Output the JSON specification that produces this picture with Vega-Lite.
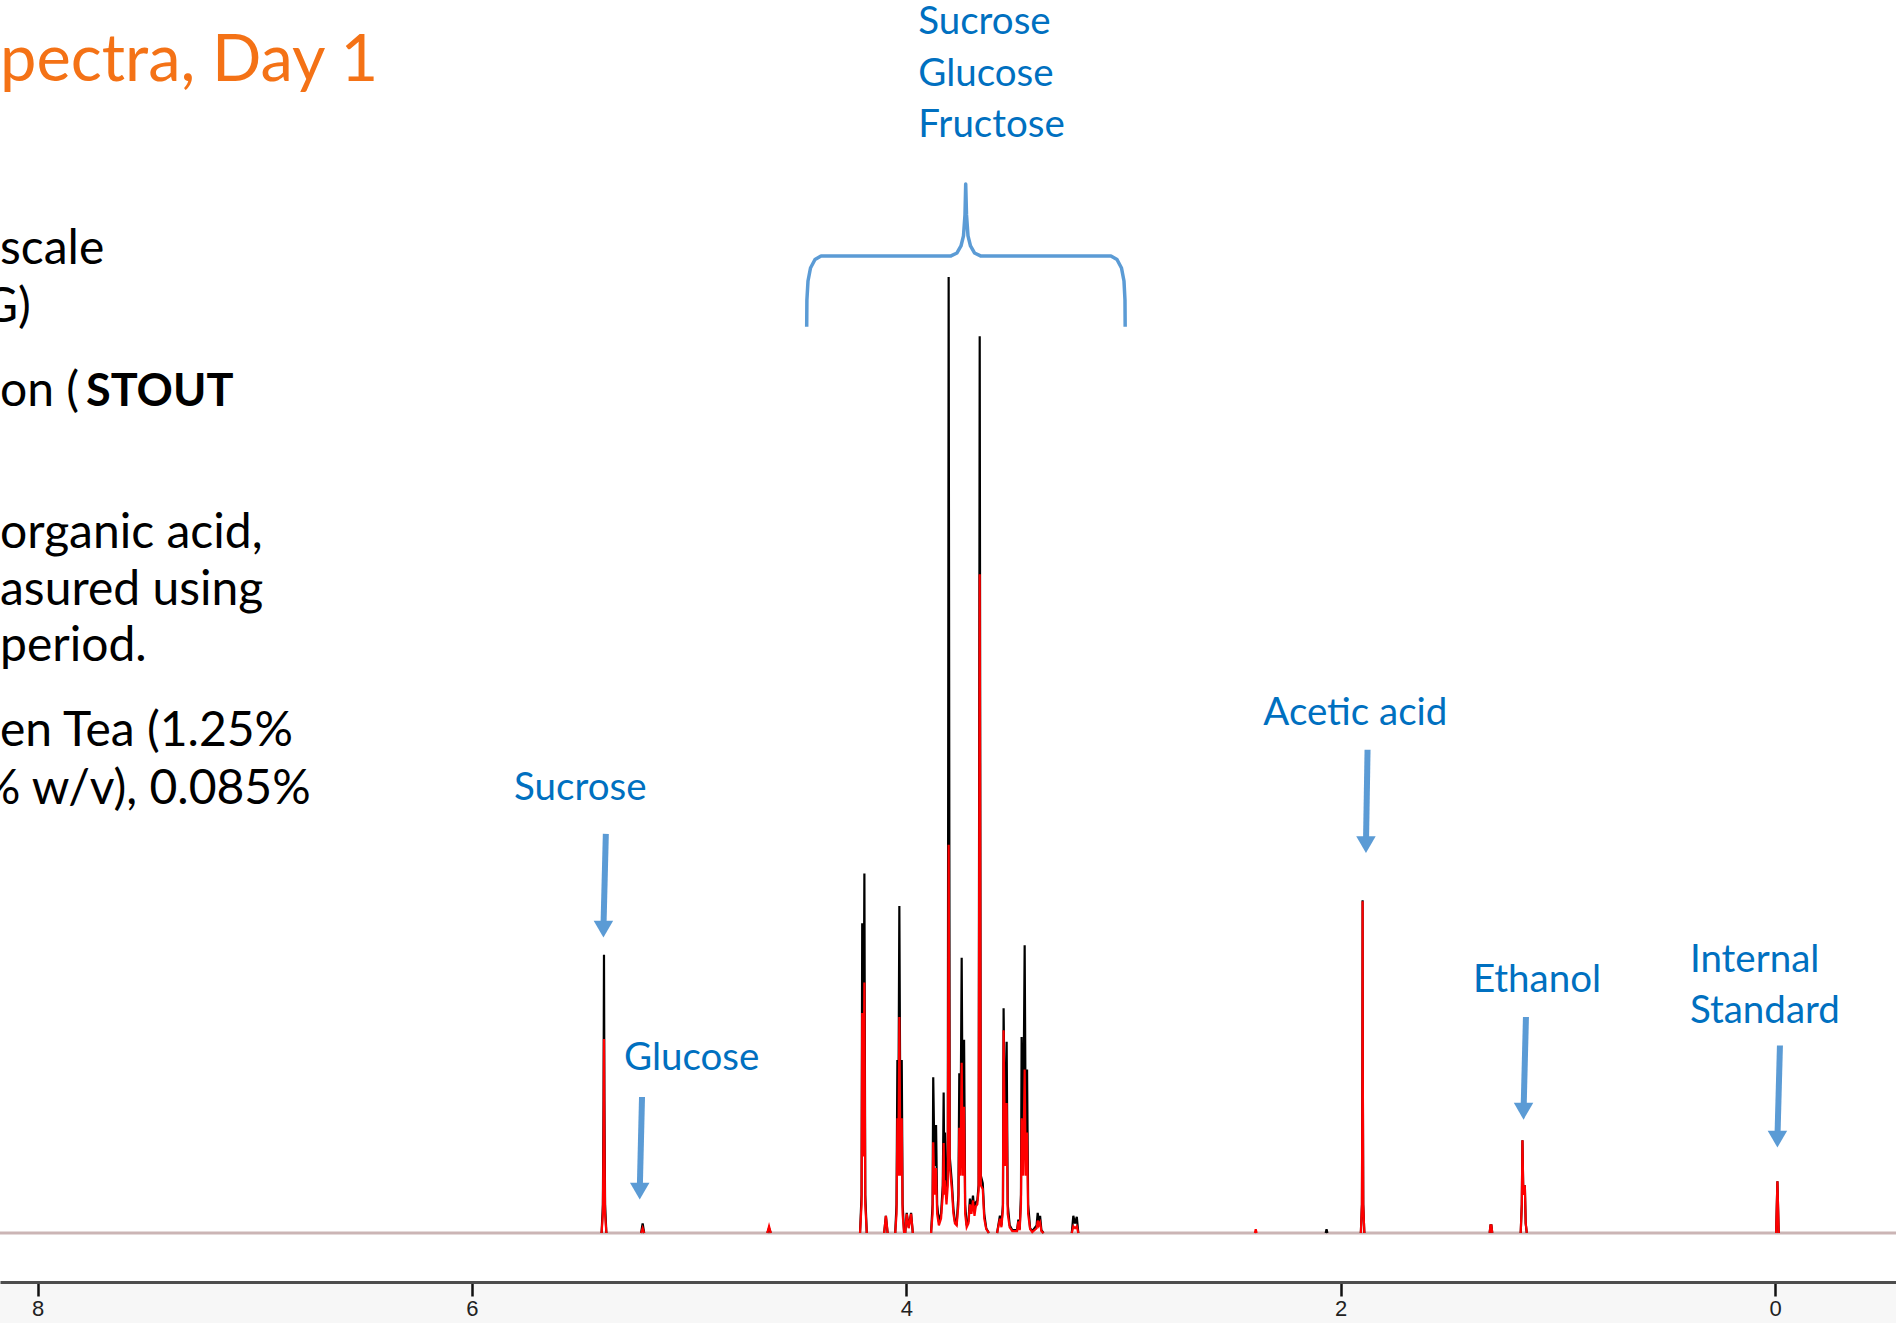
{
  "$schema": "https://vega.github.io/schema/vega-lite/v6.json",
  "width": 1896,
  "height": 1282,
  "autosize": {"type": "none"},
  "padding": {"left": 0, "top": 0, "right": 0, "bottom": 41},
  "background": "#f7f7f7",
  "config": {
    "view": {"fill": "#ffffff", "stroke": null},
    "axisX": {"grid": false, "labelFontSize": 22, "labelFont": "Liberation Sans", "labelColor": "#222222", "labelPadding": 2, "tickSize": 14, "tickWidth": 2.5, "tickColor": "#111111", "domainColor": "#4d4d4d", "domainWidth": 3, "labelFlush": false}
  },
  "datasets": {
    "spectra": [
      {"s":"Sample 1","g":1,"ppm":5.403,"i":0},{"s":"Sample 1","g":1,"ppm":5.397,"i":3},{"s":"Sample 1","g":1,"ppm":5.394,"i":14},{"s":"Sample 1","g":1,"ppm":5.392,"i":29.1},{"s":"Sample 1","g":1,"ppm":5.390,"i":14},{"s":"Sample 1","g":1,"ppm":5.387,"i":3},{"s":"Sample 1","g":1,"ppm":5.381,"i":0},
      {"s":"Sample 1","g":2,"ppm":5.221,"i":0},{"s":"Sample 1","g":2,"ppm":5.214,"i":1.0},{"s":"Sample 1","g":2,"ppm":5.207,"i":0},
      {"s":"Sample 1","g":3,"ppm":4.640,"i":0},{"s":"Sample 1","g":3,"ppm":4.632,"i":0.5},{"s":"Sample 1","g":3,"ppm":4.624,"i":0},
      {"s":"Sample 1","g":4,"ppm":4.213,"i":0},{"s":"Sample 1","g":4,"ppm":4.206,"i":4},{"s":"Sample 1","g":4,"ppm":4.203,"i":32.4},{"s":"Sample 1","g":4,"ppm":4.198,"i":11},{"s":"Sample 1","g":4,"ppm":4.193,"i":37.6},{"s":"Sample 1","g":4,"ppm":4.189,"i":4},{"s":"Sample 1","g":4,"ppm":4.182,"i":0},
      {"s":"Sample 1","g":5,"ppm":4.102,"i":0},{"s":"Sample 1","g":5,"ppm":4.094,"i":1.8},{"s":"Sample 1","g":5,"ppm":4.086,"i":0},
      {"s":"Sample 1","g":6,"ppm":4.051,"i":0},{"s":"Sample 1","g":6,"ppm":4.045,"i":3},{"s":"Sample 1","g":6,"ppm":4.041,"i":18.1},{"s":"Sample 1","g":6,"ppm":4.037,"i":9},{"s":"Sample 1","g":6,"ppm":4.032,"i":34.2},{"s":"Sample 1","g":6,"ppm":4.027,"i":9},{"s":"Sample 1","g":6,"ppm":4.021,"i":18.1},{"s":"Sample 1","g":6,"ppm":4.017,"i":3},{"s":"Sample 1","g":6,"ppm":4.010,"i":0},
      {"s":"Sample 1","g":7,"ppm":4.005,"i":0},{"s":"Sample 1","g":7,"ppm":3.998,"i":2.1},{"s":"Sample 1","g":7,"ppm":3.989,"i":0.6},{"s":"Sample 1","g":7,"ppm":3.978,"i":2.1},{"s":"Sample 1","g":7,"ppm":3.970,"i":0},
      {"s":"Sample 1","g":8,"ppm":3.886,"i":0},{"s":"Sample 1","g":8,"ppm":3.879,"i":3},{"s":"Sample 1","g":8,"ppm":3.876,"i":16.3},{"s":"Sample 1","g":8,"ppm":3.870,"i":7},{"s":"Sample 1","g":8,"ppm":3.863,"i":11.3},{"s":"Sample 1","g":8,"ppm":3.858,"i":3},{"s":"Sample 1","g":8,"ppm":3.850,"i":1.2},{"s":"Sample 1","g":8,"ppm":3.840,"i":2},{"s":"Sample 1","g":8,"ppm":3.832,"i":5},{"s":"Sample 1","g":8,"ppm":3.828,"i":14.7},{"s":"Sample 1","g":8,"ppm":3.825,"i":6},{"s":"Sample 1","g":8,"ppm":3.822,"i":10.5},{"s":"Sample 1","g":8,"ppm":3.815,"i":4},{"s":"Sample 1","g":8,"ppm":3.809,"i":6},{"s":"Sample 1","g":8,"ppm":3.805,"i":100},{"s":"Sample 1","g":8,"ppm":3.800,"i":8},{"s":"Sample 1","g":8,"ppm":3.790,"i":5.2},{"s":"Sample 1","g":8,"ppm":3.783,"i":2.5},{"s":"Sample 1","g":8,"ppm":3.776,"i":1.2},{"s":"Sample 1","g":8,"ppm":3.768,"i":1.0},{"s":"Sample 1","g":8,"ppm":3.760,"i":4},{"s":"Sample 1","g":8,"ppm":3.756,"i":16.7},{"s":"Sample 1","g":8,"ppm":3.751,"i":8},{"s":"Sample 1","g":8,"ppm":3.745,"i":28.8},{"s":"Sample 1","g":8,"ppm":3.740,"i":8},{"s":"Sample 1","g":8,"ppm":3.734,"i":20.2},{"s":"Sample 1","g":8,"ppm":3.729,"i":3},{"s":"Sample 1","g":8,"ppm":3.722,"i":0.8},{"s":"Sample 1","g":8,"ppm":3.714,"i":1.2},{"s":"Sample 1","g":8,"ppm":3.707,"i":3.6},{"s":"Sample 1","g":8,"ppm":3.700,"i":2.4},{"s":"Sample 1","g":8,"ppm":3.693,"i":3.9},{"s":"Sample 1","g":8,"ppm":3.686,"i":2.2},{"s":"Sample 1","g":8,"ppm":3.680,"i":3.2},{"s":"Sample 1","g":8,"ppm":3.673,"i":3.4},{"s":"Sample 1","g":8,"ppm":3.667,"i":5},{"s":"Sample 1","g":8,"ppm":3.662,"i":93.8},{"s":"Sample 1","g":8,"ppm":3.657,"i":6},{"s":"Sample 1","g":8,"ppm":3.648,"i":5.2},{"s":"Sample 1","g":8,"ppm":3.641,"i":2},{"s":"Sample 1","g":8,"ppm":3.632,"i":0.5},{"s":"Sample 1","g":8,"ppm":3.620,"i":0},
      {"s":"Sample 1","g":9,"ppm":3.582,"i":0},{"s":"Sample 1","g":9,"ppm":3.569,"i":1.8},{"s":"Sample 1","g":9,"ppm":3.562,"i":0.8},{"s":"Sample 1","g":9,"ppm":3.555,"i":3},{"s":"Sample 1","g":9,"ppm":3.552,"i":23.5},{"s":"Sample 1","g":9,"ppm":3.545,"i":8},{"s":"Sample 1","g":9,"ppm":3.538,"i":20.0},{"s":"Sample 1","g":9,"ppm":3.533,"i":3},{"s":"Sample 1","g":9,"ppm":3.524,"i":0.8},{"s":"Sample 1","g":9,"ppm":3.512,"i":0.3},{"s":"Sample 1","g":9,"ppm":3.490,"i":0.3},{"s":"Sample 1","g":9,"ppm":3.484,"i":1.4},{"s":"Sample 1","g":9,"ppm":3.478,"i":0.4},{"s":"Sample 1","g":9,"ppm":3.472,"i":4},{"s":"Sample 1","g":9,"ppm":3.469,"i":20.5},{"s":"Sample 1","g":9,"ppm":3.462,"i":9},{"s":"Sample 1","g":9,"ppm":3.455,"i":30.1},{"s":"Sample 1","g":9,"ppm":3.450,"i":9},{"s":"Sample 1","g":9,"ppm":3.444,"i":17.1},{"s":"Sample 1","g":9,"ppm":3.439,"i":3},{"s":"Sample 1","g":9,"ppm":3.430,"i":0.5},{"s":"Sample 1","g":9,"ppm":3.420,"i":0.2},{"s":"Sample 1","g":9,"ppm":3.400,"i":0.8},{"s":"Sample 1","g":9,"ppm":3.395,"i":2.1},{"s":"Sample 1","g":9,"ppm":3.390,"i":1.2},{"s":"Sample 1","g":9,"ppm":3.384,"i":1.8},{"s":"Sample 1","g":9,"ppm":3.378,"i":0.3},{"s":"Sample 1","g":9,"ppm":3.368,"i":0},
      {"s":"Sample 1","g":10,"ppm":3.238,"i":0},{"s":"Sample 1","g":10,"ppm":3.231,"i":1.8},{"s":"Sample 1","g":10,"ppm":3.223,"i":1.0},{"s":"Sample 1","g":10,"ppm":3.215,"i":1.7},{"s":"Sample 1","g":10,"ppm":3.208,"i":0},
      {"s":"Sample 1","g":11,"ppm":1.907,"i":0},{"s":"Sample 1","g":11,"ppm":1.902,"i":3},{"s":"Sample 1","g":11,"ppm":1.900,"i":17},{"s":"Sample 1","g":11,"ppm":1.899,"i":34.8},{"s":"Sample 1","g":11,"ppm":1.898,"i":17},{"s":"Sample 1","g":11,"ppm":1.896,"i":3},{"s":"Sample 1","g":11,"ppm":1.891,"i":0},
      {"s":"Sample 1","g":12,"ppm":2.069,"i":0},{"s":"Sample 1","g":12,"ppm":2.065,"i":0.4},{"s":"Sample 1","g":12,"ppm":2.061,"i":0},
      {"s":"Sample 1","g":13,"ppm":1.171,"i":0},{"s":"Sample 1","g":13,"ppm":1.166,"i":3},{"s":"Sample 1","g":13,"ppm":1.163,"i":9.7},{"s":"Sample 1","g":13,"ppm":1.159,"i":4},{"s":"Sample 1","g":13,"ppm":1.152,"i":5.0},{"s":"Sample 1","g":13,"ppm":1.148,"i":1},{"s":"Sample 1","g":13,"ppm":1.143,"i":0},
      {"s":"Sample 1","g":14,"ppm":1.314,"i":0},{"s":"Sample 1","g":14,"ppm":1.310,"i":0.8},{"s":"Sample 1","g":14,"ppm":1.306,"i":0.8},{"s":"Sample 1","g":14,"ppm":1.302,"i":0},
      {"s":"Sample 1","g":15,"ppm":-0.005,"i":0},{"s":"Sample 1","g":15,"ppm":-0.011,"i":5.4},{"s":"Sample 1","g":15,"ppm":-0.017,"i":0},
      {"s":"Sample 2","g":1,"ppm":5.403,"i":0},{"s":"Sample 2","g":1,"ppm":5.397,"i":2},{"s":"Sample 2","g":1,"ppm":5.394,"i":10},{"s":"Sample 2","g":1,"ppm":5.392,"i":20.3},{"s":"Sample 2","g":1,"ppm":5.390,"i":10},{"s":"Sample 2","g":1,"ppm":5.387,"i":2},{"s":"Sample 2","g":1,"ppm":5.381,"i":0},
      {"s":"Sample 2","g":2,"ppm":5.221,"i":0},{"s":"Sample 2","g":2,"ppm":5.214,"i":0.5},{"s":"Sample 2","g":2,"ppm":5.207,"i":0},
      {"s":"Sample 2","g":3,"ppm":4.640,"i":0},{"s":"Sample 2","g":3,"ppm":4.632,"i":0.7},{"s":"Sample 2","g":3,"ppm":4.624,"i":0},
      {"s":"Sample 2","g":4,"ppm":4.213,"i":0},{"s":"Sample 2","g":4,"ppm":4.206,"i":3},{"s":"Sample 2","g":4,"ppm":4.203,"i":23.0},{"s":"Sample 2","g":4,"ppm":4.198,"i":8},{"s":"Sample 2","g":4,"ppm":4.193,"i":26.2},{"s":"Sample 2","g":4,"ppm":4.189,"i":3},{"s":"Sample 2","g":4,"ppm":4.182,"i":0},
      {"s":"Sample 2","g":5,"ppm":4.102,"i":0},{"s":"Sample 2","g":5,"ppm":4.094,"i":1.8},{"s":"Sample 2","g":5,"ppm":4.086,"i":0},
      {"s":"Sample 2","g":6,"ppm":4.051,"i":0},{"s":"Sample 2","g":6,"ppm":4.045,"i":2},{"s":"Sample 2","g":6,"ppm":4.041,"i":12.0},{"s":"Sample 2","g":6,"ppm":4.037,"i":6},{"s":"Sample 2","g":6,"ppm":4.032,"i":22.6},{"s":"Sample 2","g":6,"ppm":4.027,"i":6},{"s":"Sample 2","g":6,"ppm":4.021,"i":12.0},{"s":"Sample 2","g":6,"ppm":4.017,"i":2},{"s":"Sample 2","g":6,"ppm":4.010,"i":0},
      {"s":"Sample 2","g":7,"ppm":4.005,"i":0},{"s":"Sample 2","g":7,"ppm":3.998,"i":2.0},{"s":"Sample 2","g":7,"ppm":3.989,"i":0.5},{"s":"Sample 2","g":7,"ppm":3.978,"i":2.0},{"s":"Sample 2","g":7,"ppm":3.970,"i":0},
      {"s":"Sample 2","g":8,"ppm":3.886,"i":0},{"s":"Sample 2","g":8,"ppm":3.879,"i":2},{"s":"Sample 2","g":8,"ppm":3.876,"i":9.5},{"s":"Sample 2","g":8,"ppm":3.870,"i":4},{"s":"Sample 2","g":8,"ppm":3.863,"i":6.8},{"s":"Sample 2","g":8,"ppm":3.858,"i":2},{"s":"Sample 2","g":8,"ppm":3.850,"i":0.8},{"s":"Sample 2","g":8,"ppm":3.840,"i":1.5},{"s":"Sample 2","g":8,"ppm":3.832,"i":4},{"s":"Sample 2","g":8,"ppm":3.828,"i":9.4},{"s":"Sample 2","g":8,"ppm":3.825,"i":4},{"s":"Sample 2","g":8,"ppm":3.822,"i":5.5},{"s":"Sample 2","g":8,"ppm":3.815,"i":3},{"s":"Sample 2","g":8,"ppm":3.809,"i":5},{"s":"Sample 2","g":8,"ppm":3.805,"i":40.6},{"s":"Sample 2","g":8,"ppm":3.800,"i":7},{"s":"Sample 2","g":8,"ppm":3.790,"i":4.5},{"s":"Sample 2","g":8,"ppm":3.783,"i":2},{"s":"Sample 2","g":8,"ppm":3.776,"i":1},{"s":"Sample 2","g":8,"ppm":3.768,"i":0.8},{"s":"Sample 2","g":8,"ppm":3.760,"i":3},{"s":"Sample 2","g":8,"ppm":3.756,"i":11.0},{"s":"Sample 2","g":8,"ppm":3.751,"i":6},{"s":"Sample 2","g":8,"ppm":3.745,"i":17.8},{"s":"Sample 2","g":8,"ppm":3.740,"i":6},{"s":"Sample 2","g":8,"ppm":3.734,"i":13.2},{"s":"Sample 2","g":8,"ppm":3.729,"i":2},{"s":"Sample 2","g":8,"ppm":3.722,"i":0.6},{"s":"Sample 2","g":8,"ppm":3.714,"i":1.0},{"s":"Sample 2","g":8,"ppm":3.707,"i":3.0},{"s":"Sample 2","g":8,"ppm":3.700,"i":2.0},{"s":"Sample 2","g":8,"ppm":3.693,"i":3.4},{"s":"Sample 2","g":8,"ppm":3.686,"i":1.8},{"s":"Sample 2","g":8,"ppm":3.680,"i":2.8},{"s":"Sample 2","g":8,"ppm":3.673,"i":3.0},{"s":"Sample 2","g":8,"ppm":3.667,"i":4.5},{"s":"Sample 2","g":8,"ppm":3.662,"i":68.9},{"s":"Sample 2","g":8,"ppm":3.657,"i":5},{"s":"Sample 2","g":8,"ppm":3.648,"i":4.6},{"s":"Sample 2","g":8,"ppm":3.641,"i":1.5},{"s":"Sample 2","g":8,"ppm":3.632,"i":0.4},{"s":"Sample 2","g":8,"ppm":3.620,"i":0},
      {"s":"Sample 2","g":9,"ppm":3.582,"i":0},{"s":"Sample 2","g":9,"ppm":3.569,"i":1.5},{"s":"Sample 2","g":9,"ppm":3.562,"i":0.6},{"s":"Sample 2","g":9,"ppm":3.555,"i":2.5},{"s":"Sample 2","g":9,"ppm":3.552,"i":21.2},{"s":"Sample 2","g":9,"ppm":3.545,"i":7},{"s":"Sample 2","g":9,"ppm":3.538,"i":13.6},{"s":"Sample 2","g":9,"ppm":3.533,"i":2},{"s":"Sample 2","g":9,"ppm":3.524,"i":0.6},{"s":"Sample 2","g":9,"ppm":3.512,"i":0.2},{"s":"Sample 2","g":9,"ppm":3.490,"i":0.2},{"s":"Sample 2","g":9,"ppm":3.484,"i":1.2},{"s":"Sample 2","g":9,"ppm":3.478,"i":0.3},{"s":"Sample 2","g":9,"ppm":3.472,"i":3},{"s":"Sample 2","g":9,"ppm":3.469,"i":12.0},{"s":"Sample 2","g":9,"ppm":3.462,"i":6},{"s":"Sample 2","g":9,"ppm":3.455,"i":17.1},{"s":"Sample 2","g":9,"ppm":3.450,"i":6},{"s":"Sample 2","g":9,"ppm":3.444,"i":10.5},{"s":"Sample 2","g":9,"ppm":3.439,"i":2},{"s":"Sample 2","g":9,"ppm":3.430,"i":0.4},{"s":"Sample 2","g":9,"ppm":3.420,"i":0.1},{"s":"Sample 2","g":9,"ppm":3.400,"i":0.5},{"s":"Sample 2","g":9,"ppm":3.395,"i":1.3},{"s":"Sample 2","g":9,"ppm":3.390,"i":0.8},{"s":"Sample 2","g":9,"ppm":3.384,"i":1.1},{"s":"Sample 2","g":9,"ppm":3.378,"i":0.2},{"s":"Sample 2","g":9,"ppm":3.368,"i":0},
      {"s":"Sample 2","g":10,"ppm":3.238,"i":0},{"s":"Sample 2","g":10,"ppm":3.231,"i":0.7},{"s":"Sample 2","g":10,"ppm":3.223,"i":0.5},{"s":"Sample 2","g":10,"ppm":3.215,"i":0.7},{"s":"Sample 2","g":10,"ppm":3.208,"i":0},
      {"s":"Sample 2","g":11,"ppm":1.907,"i":0},{"s":"Sample 2","g":11,"ppm":1.902,"i":3},{"s":"Sample 2","g":11,"ppm":1.900,"i":17},{"s":"Sample 2","g":11,"ppm":1.899,"i":34.7},{"s":"Sample 2","g":11,"ppm":1.898,"i":17},{"s":"Sample 2","g":11,"ppm":1.896,"i":3},{"s":"Sample 2","g":11,"ppm":1.891,"i":0},
      {"s":"Sample 2","g":12,"ppm":2.395,"i":0},{"s":"Sample 2","g":12,"ppm":2.391,"i":0.4},{"s":"Sample 2","g":12,"ppm":2.387,"i":0},
      {"s":"Sample 2","g":13,"ppm":1.171,"i":0},{"s":"Sample 2","g":13,"ppm":1.166,"i":3},{"s":"Sample 2","g":13,"ppm":1.163,"i":9.7},{"s":"Sample 2","g":13,"ppm":1.159,"i":4},{"s":"Sample 2","g":13,"ppm":1.152,"i":5.0},{"s":"Sample 2","g":13,"ppm":1.148,"i":1},{"s":"Sample 2","g":13,"ppm":1.143,"i":0},
      {"s":"Sample 2","g":14,"ppm":1.314,"i":0},{"s":"Sample 2","g":14,"ppm":1.310,"i":0.8},{"s":"Sample 2","g":14,"ppm":1.306,"i":0.8},{"s":"Sample 2","g":14,"ppm":1.302,"i":0},
      {"s":"Sample 2","g":15,"ppm":-0.005,"i":0},{"s":"Sample 2","g":15,"ppm":-0.011,"i":5.4},{"s":"Sample 2","g":15,"ppm":-0.017,"i":0}
    ],
    "brace": [
      {"k":1,"ppm":4.4586,"i":94.80},{"k":2,"ppm":4.4577,"i":97.59},{"k":3,"ppm":4.4526,"i":99.58},{"k":4,"ppm":4.4411,"i":100.94},{"k":5,"ppm":4.4204,"i":101.83},{"k":6,"ppm":4.3927,"i":102.20},{"k":7,"ppm":3.7942,"i":102.20},{"k":8,"ppm":3.7666,"i":102.51},{"k":9,"ppm":3.7482,"i":103.24},{"k":10,"ppm":3.7367,"i":104.29},{"k":11,"ppm":3.7298,"i":106.49},{"k":12,"ppm":3.7265,"i":109.73},{"k":13,"ppm":3.7228,"i":106.49},{"k":14,"ppm":3.7159,"i":104.29},{"k":15,"ppm":3.7044,"i":103.24},{"k":16,"ppm":3.6860,"i":102.51},{"k":17,"ppm":3.6584,"i":102.20},{"k":18,"ppm":3.0576,"i":102.20},{"k":19,"ppm":3.0299,"i":101.83},{"k":20,"ppm":3.0092,"i":100.94},{"k":21,"ppm":2.9977,"i":99.58},{"k":22,"ppm":2.9931,"i":97.59},{"k":23,"ppm":2.9922,"i":94.80}
    ],
    "arrows": [
      {"target":"Sucrose","ppm":5.3835,"i":41.74,"ppm2":5.3946,"i2":31.78},
      {"target":"Glucose","ppm":5.2169,"i":14.23,"ppm2":5.2274,"i2":4.38},
      {"target":"Acetic acid","ppm":1.8762,"i":50.55,"ppm2":1.8835,"i2":40.62},
      {"target":"Ethanol","ppm":1.1469,"i":22.59,"ppm2":1.1579,"i2":12.74},
      {"target":"Internal Standard","ppm":-0.0226,"i":19.61,"ppm2":-0.0110,"i2":9.82}
    ],
    "labels": [
      {"t":"Sucrose","ppm":5.806,"i":45.29},
      {"t":"Glucose","ppm":5.300,"i":17.01},
      {"t":"Sucrose","ppm":3.945,"i":125.39},
      {"t":"Glucose","ppm":3.945,"i":119.98},
      {"t":"Fructose","ppm":3.945,"i":114.68},
      {"t":"Acetic acid","ppm":2.356,"i":53.18},
      {"t":"Ethanol","ppm":1.391,"i":25.24},
      {"t":"Internal","ppm":0.392,"i":27.33},
      {"t":"Standard","ppm":0.392,"i":21.97}
    ],
    "title": [{"t":"pectra, Day 1","ppm":8.173,"i":120.46}],
    "body": [
      {"t":"scale","ppm":8.173,"i":101.40},
      {"t":"G)","ppm":8.251,"i":95.33},
      {"t":"on (","ppm":8.173,"i":86.48},
      {"t":"organic acid,","ppm":8.173,"i":71.67},
      {"t":"asured using","ppm":8.173,"i":65.73},
      {"t":"period.","ppm":8.173,"i":59.79},
      {"t":"en Tea (1.25%","ppm":8.173,"i":50.93},
      {"t":"% w/v), 0.085%","ppm":8.256,"i":44.86}
    ],
    "bold": [{"t":"STOUT","ppm":7.777,"i":86.48}]
  },
  "layer": [
    {
      "data": {"values": [{"i": 0}]},
      "mark": {"type": "rule", "color": "#cbb5b5", "strokeWidth": 3},
      "encoding": {
        "y": {"field": "i", "type": "quantitative", "scale": {"domain": [-5.126, 128.97], "nice": false, "zero": false}, "axis": null}
      }
    },
    {
      "data": {"name": "spectra"},
      "transform": [{"filter": "datum.s === 'Sample 1'"}],
      "mark": {"type": "line", "color": "#000000", "strokeWidth": 2.2, "strokeJoin": "miter"},
      "encoding": {
        "x": {"field": "ppm", "type": "quantitative", "scale": {"domain": [-0.557, 8.173], "reverse": true, "nice": false, "zero": false}, "axis": {"values": [8, 6, 4, 2, 0], "format": "d", "title": null}},
        "y": {"field": "i", "type": "quantitative", "scale": {"domain": [-5.126, 128.97], "nice": false, "zero": false}, "axis": null},
        "detail": {"field": "g", "type": "nominal"}
      }
    },
    {
      "data": {"name": "spectra"},
      "transform": [{"filter": "datum.s === 'Sample 2'"}],
      "mark": {"type": "line", "color": "#ff0000", "strokeWidth": 2.2, "strokeJoin": "miter"},
      "encoding": {
        "x": {"field": "ppm", "type": "quantitative", "scale": {"domain": [-0.557, 8.173], "reverse": true, "nice": false, "zero": false}, "axis": {"values": [8, 6, 4, 2, 0], "format": "d", "title": null}},
        "y": {"field": "i", "type": "quantitative", "scale": {"domain": [-5.126, 128.97], "nice": false, "zero": false}, "axis": null},
        "detail": {"field": "g", "type": "nominal"}
      }
    },
    {
      "data": {"name": "brace"},
      "mark": {"type": "line", "color": "#5b9bd5", "strokeWidth": 3.5, "strokeJoin": "round", "interpolate": "linear"},
      "encoding": {
        "x": {"field": "ppm", "type": "quantitative", "scale": {"domain": [-0.557, 8.173], "reverse": true, "nice": false, "zero": false}, "axis": {"values": [8, 6, 4, 2, 0], "format": "d", "title": null}},
        "y": {"field": "i", "type": "quantitative", "scale": {"domain": [-5.126, 128.97], "nice": false, "zero": false}, "axis": null},
        "order": {"field": "k", "type": "quantitative"}
      }
    },
    {
      "data": {"name": "arrows"},
      "mark": {"type": "rule", "color": "#5b9bd5", "strokeWidth": 6},
      "encoding": {
        "x": {"field": "ppm", "type": "quantitative", "scale": {"domain": [-0.557, 8.173], "reverse": true, "nice": false, "zero": false}, "axis": {"values": [8, 6, 4, 2, 0], "format": "d", "title": null}},
        "y": {"field": "i", "type": "quantitative", "scale": {"domain": [-5.126, 128.97], "nice": false, "zero": false}, "axis": null},
        "x2": {"field": "ppm2"},
        "y2": {"field": "i2"}
      }
    },
    {
      "data": {"name": "arrows"},
      "mark": {"type": "point", "shape": "triangle-down", "filled": true, "size": 380, "color": "#5b9bd5", "opacity": 1},
      "encoding": {
        "x": {"field": "ppm2", "type": "quantitative", "scale": {"domain": [-0.557, 8.173], "reverse": true, "nice": false, "zero": false}, "axis": {"values": [8, 6, 4, 2, 0], "format": "d", "title": null}},
        "y": {"field": "i2", "type": "quantitative", "scale": {"domain": [-5.126, 128.97], "nice": false, "zero": false}, "axis": null}
      }
    },
    {
      "data": {"name": "labels"},
      "mark": {"type": "text", "align": "left", "baseline": "alphabetic", "font": "Lato", "fontSize": 38.5, "color": "#0070c0"},
      "encoding": {
        "x": {"field": "ppm", "type": "quantitative", "scale": {"domain": [-0.557, 8.173], "reverse": true, "nice": false, "zero": false}, "axis": {"values": [8, 6, 4, 2, 0], "format": "d", "title": null}},
        "y": {"field": "i", "type": "quantitative", "scale": {"domain": [-5.126, 128.97], "nice": false, "zero": false}, "axis": null},
        "text": {"field": "t"}
      }
    },
    {
      "data": {"name": "title"},
      "mark": {"type": "text", "align": "left", "baseline": "alphabetic", "font": "Lato", "fontSize": 65, "color": "#f47216"},
      "encoding": {
        "x": {"field": "ppm", "type": "quantitative", "scale": {"domain": [-0.557, 8.173], "reverse": true, "nice": false, "zero": false}, "axis": {"values": [8, 6, 4, 2, 0], "format": "d", "title": null}},
        "y": {"field": "i", "type": "quantitative", "scale": {"domain": [-5.126, 128.97], "nice": false, "zero": false}, "axis": null},
        "text": {"field": "t"}
      }
    },
    {
      "data": {"name": "body"},
      "mark": {"type": "text", "align": "left", "baseline": "alphabetic", "font": "Lato", "fontSize": 48, "color": "#000000", "clip": true},
      "encoding": {
        "x": {"field": "ppm", "type": "quantitative", "scale": {"domain": [-0.557, 8.173], "reverse": true, "nice": false, "zero": false}, "axis": {"values": [8, 6, 4, 2, 0], "format": "d", "title": null}},
        "y": {"field": "i", "type": "quantitative", "scale": {"domain": [-5.126, 128.97], "nice": false, "zero": false}, "axis": null},
        "text": {"field": "t"}
      }
    },
    {
      "data": {"name": "bold"},
      "mark": {"type": "text", "align": "left", "baseline": "alphabetic", "font": "Lato", "fontSize": 45, "fontWeight": "bold", "color": "#000000"},
      "encoding": {
        "x": {"field": "ppm", "type": "quantitative", "scale": {"domain": [-0.557, 8.173], "reverse": true, "nice": false, "zero": false}, "axis": {"values": [8, 6, 4, 2, 0], "format": "d", "title": null}},
        "y": {"field": "i", "type": "quantitative", "scale": {"domain": [-5.126, 128.97], "nice": false, "zero": false}, "axis": null},
        "text": {"field": "t"}
      }
    }
  ]
}
